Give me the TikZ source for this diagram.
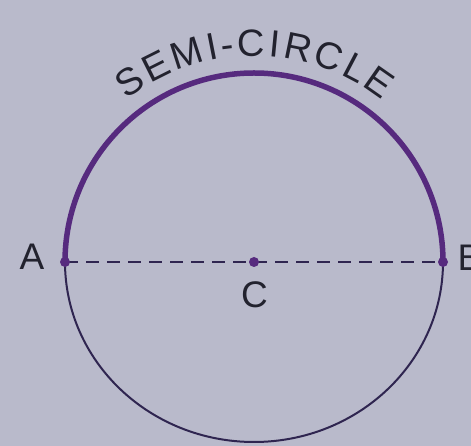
\documentclass[tikz,border=0pt]{standalone}
\usepackage{fontspec}
\setmainfont{Liberation Sans}
\definecolor{bg}{HTML}{B9BACB}
\definecolor{semi}{HTML}{562A7E}
\definecolor{circ}{HTML}{2F2550}
\definecolor{ink}{HTML}{22222E}
\begin{document}
\begin{tikzpicture}[x=1pt,y=1pt,
  lbl/.style={text=ink, font=\fontsize{37}{37}\selectfont, inner sep=0pt},
  arcletter/.style={text=ink, font=\fontsize{38}{38}\selectfont, inner sep=0pt, anchor=base},
  dotmark/.style={circle, fill=semi, inner sep=0pt, minimum size=10pt},
  halfline/.style={semi, line width=5.5pt},
  lowline/.style={circ, line width=2pt},
  diam/.style={circ, line width=1.8pt, dash pattern=on 13pt off 8pt}]
\fill[bg] (0,0) rectangle (471,446);
\useasboundingbox (0,0) rectangle (471,446);
\coordinate (A) at (65,184);
\coordinate (B) at (443,184);
\coordinate (C) at (254,184);
\draw[lowline] (A) arc[start angle=180, end angle=360, x radius=189pt, y radius=180pt];
\draw[halfline] (A) arc[start angle=180, end angle=0, radius=189pt];
\draw[diam] (A) -- (C) -- (B);
\node[dotmark] (Adot) at (A) {};
\node[dotmark] (Bdot) at (B) {};
\node[dotmark] (Cdot) at (C) {};
\node[lbl] (labA) at (32,189) {A};
\node[lbl] (labB) at (470,188) {B};
\node[lbl] (labC) at (254.5,151) {C};
\foreach \ch/\ang [count=\k] in {S/124.48, E/116.59, M/107.82, I/101.12, -/97.05, C/90.64, I/84.51, R/78.39, C/69.92, L/62.33, E/55.03}
  \node[arcletter, rotate=\ang-90] (let\k) at ([shift={(C)}]\ang:206pt) {\ch};
\end{tikzpicture}
\end{document}
